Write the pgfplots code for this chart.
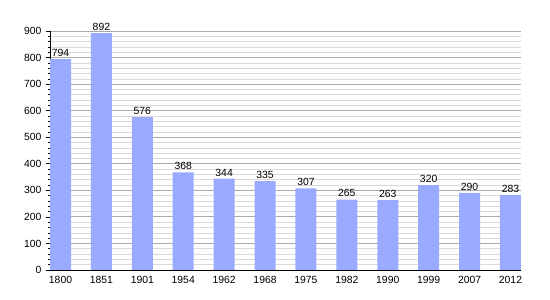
\documentclass[border=0pt]{standalone}
\usepackage{pgfplots}
\pgfplotsset{compat=1.18}
\usepackage{fontspec}
\setmainfont{Liberation Sans}
\definecolor{barblue}{RGB}{153,170,255}
\definecolor{majgrid}{RGB}{170,170,170}
\definecolor{mingrid}{RGB}{218,218,218}
\begin{document}
\begin{tikzpicture}
\useasboundingbox (-50pt,-30pt) rectangle (500pt,270pt);
\begin{axis}[
  at={(0pt,0pt)}, anchor=south west,
  scale only axis, width=471pt, height=239pt,
  xmin=-0.257, xmax=11.257, ymin=0, ymax=900,
  axis x line*=bottom, axis y line*=left,
  axis line style={black, line width=0.8pt},
  xtick=data,
  xticklabels={1800,1851,1901,1954,1962,1968,1975,1982,1990,1999,2007,2012},
  x tick style={draw=none},
  ytick={0,100,...,900},
  minor y tick num=4,
  y tick style={black, line width=0.6pt},
  major tick length=4pt, minor tick length=2pt,
  tick align=outside,
  ymajorgrids, yminorgrids,
  major grid style={majgrid, line width=0.8pt},
  minor grid style={mingrid, line width=0.6pt},
  tick label style={font=\fontsize{10.4}{12}\selectfont},
  /pgf/number format/assume math mode=true,
  yticklabel style={xshift=-1pt},
  xticklabel style={yshift=1.5pt},
  nodes near coords,
  every node near coord/.append style={font=\fontsize{10.4}{12}\selectfont, black, yshift=-1pt},
  ybar, bar width=21pt,
  clip=false,
]
\addplot[fill=barblue, draw=none] coordinates {
 (0,794) (1,892) (2,576) (3,368) (4,344) (5,335) (6,307) (7,265) (8,263) (9,320) (10,290) (11,283)
};
\end{axis}
\end{tikzpicture}
\end{document}
